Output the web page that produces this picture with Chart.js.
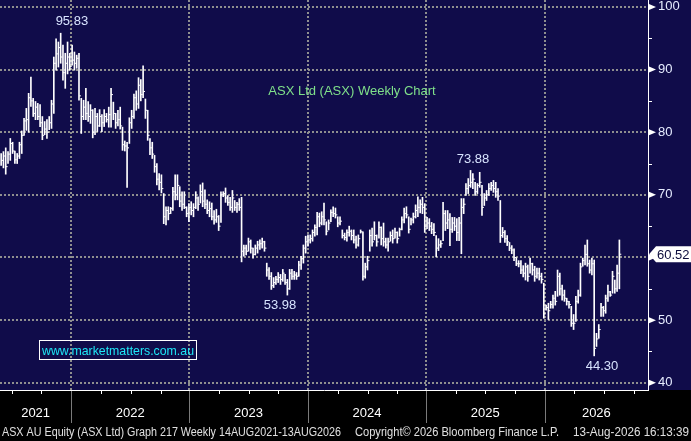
<!DOCTYPE html>
<html>
<head>
<meta charset="utf-8">
<script src="https://cdn.jsdelivr.net/npm/chart.js@4.4.0/dist/chart.umd.min.js"></script>
<style>
  html, body { margin: 0; padding: 0; background: #000; }
  canvas { display: block; }
</style>
</head>
<body>
<canvas id="chart" width="691" height="441"></canvas>
<script>
// weekly bars, Aug 2021 -> Aug 2026
const highs = [
  76.6, 76.9, 77.5, 76.9, 79.0, 78.4, 77.0, 76.6, 78.4, 80.2,
  82.2, 83.8, 86.2, 88.8, 85.4, 84.9, 84.6, 84.4, 82.5, 81.7,
  82.0, 82.5, 85.1, 92.0, 94.9, 94.4, 95.8, 93.9, 92.6, 94.4,
  92.6, 93.9, 92.8, 92.3, 92.6, 85.4, 85.1, 87.0, 84.9, 84.4,
  83.6, 83.8, 83.0, 83.6, 82.8, 83.6, 83.0, 84.0, 87.0, 84.8,
  83.0, 83.5, 84.0, 80.8, 78.6, 78.4, 82.3, 83.5, 86.1, 86.6,
  88.7, 88.4, 90.6, 85.3, 83.5, 79.0, 78.4, 76.3, 75.0, 73.4,
  73.2, 70.2, 68.1, 68.1, 68.0, 71.2, 73.2, 73.2, 71.3, 70.5,
  70.5, 68.1, 68.6, 68.9, 68.6, 70.5, 69.7, 71.6, 71.9, 70.8,
  69.2, 68.9, 68.7, 67.5, 67.7, 66.7, 70.5, 70.5, 71.1, 69.9,
  69.6, 70.7, 69.1, 68.8, 69.4, 69.6, 62.0, 62.0, 63.1, 62.8,
  61.5, 62.0, 62.6, 62.8, 63.1, 62.6, 59.1, 58.4, 57.6, 56.8,
  57.0, 57.6, 57.3, 58.1, 57.3, 56.5, 58.1, 58.1, 57.8, 57.6,
  59.4, 60.2, 62.0, 63.4, 63.6, 63.6, 64.4, 65.2, 67.2, 67.1,
  67.3, 68.7, 65.7, 66.0, 67.6, 68.1, 67.9, 66.5, 66.5, 64.4,
  63.9, 64.4, 65.0, 64.4, 64.4, 63.4, 63.6, 64.4, 64.1, 59.1,
  60.2, 64.4, 64.7, 65.7, 63.6, 65.7, 64.9, 65.5, 63.1, 63.1,
  64.1, 64.4, 64.7, 64.1, 64.7, 66.5, 67.9, 68.1, 66.5, 66.3,
  67.1, 68.4, 69.7, 69.2, 69.6, 68.6, 66.4, 66.2, 65.6, 65.4,
  63.5, 63.0, 62.7, 68.8, 67.5, 67.5, 67.0, 66.4, 66.4, 66.2,
  66.4, 69.4, 69.4, 71.8, 72.6, 73.9, 73.4, 72.0, 71.8, 73.6,
  71.5, 70.2, 70.7, 71.8, 72.0, 72.3, 72.0, 71.0, 69.1, 64.8,
  64.3, 63.5, 62.4, 61.9, 61.4, 60.0, 59.5, 59.5, 58.7, 59.1,
  58.8, 59.9, 59.1, 58.6, 58.3, 58.3, 57.5, 55.9, 52.4, 52.7,
  53.0, 54.0, 54.6, 58.0, 57.5, 55.6, 54.8, 53.5, 53.0, 52.2,
  50.9, 53.8, 54.8, 59.1, 59.9, 62.0, 62.8, 59.6, 59.9, 59.6,
  47.9, 49.3, 52.7, 52.2, 54.0, 55.6, 54.6, 57.8, 56.4, 58.8, 62.8
];
const lows = [
  74.7, 74.3, 73.3, 75.0, 75.5, 76.6, 75.0, 75.0, 75.8, 76.6,
  79.5, 80.3, 80.0, 84.1, 82.5, 82.0, 82.0, 80.9, 78.8, 79.6,
  79.0, 80.4, 80.6, 83.0, 89.9, 90.4, 91.0, 88.3, 87.0, 89.3,
  89.9, 90.7, 89.9, 90.2, 85.1, 79.8, 82.0, 82.0, 81.7, 81.4,
  79.1, 79.6, 80.1, 80.9, 80.1, 80.9, 81.6, 80.8, 80.8, 82.0,
  80.6, 81.0, 80.5, 77.1, 77.0, 71.2, 78.2, 80.6, 82.2, 83.5,
  83.8, 85.0, 85.5, 82.2, 78.7, 76.4, 75.8, 73.6, 71.6, 70.8,
  70.3, 65.4, 65.2, 66.0, 67.0, 67.5, 69.2, 69.2, 68.1, 67.5,
  67.8, 66.5, 65.7, 66.8, 66.5, 67.8, 67.5, 68.7, 68.1, 67.8,
  67.0, 66.5, 66.0, 65.3, 65.6, 64.3, 65.6, 69.7, 68.8, 68.3,
  67.5, 67.2, 67.5, 67.2, 67.5, 59.3, 60.2, 60.4, 61.0, 60.7,
  59.9, 60.4, 60.7, 61.3, 61.5, 61.0, 57.0, 56.5, 54.9, 55.2,
  55.7, 56.0, 55.7, 56.2, 55.7, 54.0, 54.9, 56.5, 56.5, 56.5,
  57.0, 58.1, 59.1, 60.7, 61.8, 62.3, 62.6, 63.4, 63.6, 64.9,
  65.2, 65.2, 63.6, 64.4, 65.7, 66.5, 66.3, 64.9, 65.2, 63.1,
  62.8, 62.6, 63.4, 62.8, 62.3, 61.5, 61.8, 63.9, 56.4, 56.7,
  58.0, 61.0, 61.8, 62.8, 61.8, 63.1, 62.0, 61.8, 61.5, 61.0,
  62.6, 62.3, 63.1, 62.3, 63.4, 64.4, 65.5, 66.3, 63.9, 65.2,
  65.5, 66.3, 66.5, 67.1, 67.0, 64.0, 64.6, 64.3, 63.8, 63.5,
  60.1, 61.1, 61.6, 62.7, 64.3, 64.6, 61.9, 64.0, 64.3, 62.7,
  62.7, 60.6, 67.0, 69.9, 70.2, 71.2, 71.0, 69.9, 70.2, 71.2,
  66.7, 68.3, 69.1, 69.9, 70.7, 70.4, 69.6, 69.1, 62.4, 63.2,
  62.4, 61.9, 61.1, 60.6, 59.5, 58.7, 58.5, 57.4, 56.9, 56.4,
  56.2, 57.5, 57.2, 56.2, 56.7, 56.4, 55.9, 50.3, 51.6, 50.1,
  51.9, 51.9, 52.4, 53.8, 54.0, 53.2, 53.0, 52.4, 51.9, 49.0,
  48.5, 49.8, 52.7, 53.8, 58.6, 58.8, 58.6, 57.5, 57.2, 44.3,
  45.8, 47.1, 50.6, 50.6, 51.1, 53.0, 53.8, 54.3, 54.3, 54.6, 55.0
];
const closes = [
  75.5, 76.2, 74.5, 76.5, 78.2, 77.0, 75.6, 76.2, 78.0, 79.5,
  81.8, 82.0, 85.5, 85.0, 83.0, 84.0, 82.5, 81.5, 79.5, 80.5,
  80.0, 81.5, 84.5, 91.0, 92.5, 93.5, 92.0, 89.5, 91.0, 92.0,
  90.5, 91.5, 91.0, 91.8, 85.8, 82.5, 84.0, 83.0, 82.5, 83.5,
  80.0, 82.5, 81.0, 82.5, 81.5, 82.5, 82.0, 82.8, 86.0, 83.0,
  81.5, 82.0, 81.0, 78.0, 77.8, 77.5, 81.5, 82.5, 85.5, 84.5,
  87.5, 86.0, 86.5, 83.5, 79.5, 77.5, 76.5, 74.5, 72.5, 72.0,
  71.0, 66.5, 67.5, 67.0, 67.8, 70.5, 70.0, 71.5, 69.0, 68.5,
  68.0, 67.0, 68.0, 67.5, 68.0, 69.5, 68.5, 70.5, 69.0, 68.5,
  67.5, 67.8, 66.5, 66.0, 66.5, 65.0, 70.0, 70.2, 69.5, 68.8,
  68.0, 69.5, 68.0, 68.5, 68.0, 61.0, 61.5, 61.0, 62.5, 61.5,
  60.5, 61.5, 62.0, 62.2, 62.5, 61.5, 58.0, 57.0, 55.5, 56.0,
  56.5, 56.8, 56.5, 57.5, 56.0, 55.0, 57.5, 57.0, 57.2, 57.0,
  58.8, 59.8, 61.5, 62.5, 62.8, 63.0, 64.0, 64.8, 66.5, 65.5,
  66.5, 66.0, 64.2, 65.5, 67.2, 67.0, 66.8, 65.5, 65.8, 63.5,
  63.2, 64.0, 64.2, 63.5, 62.8, 62.0, 63.0, 64.1, 57.0, 58.5,
  59.5, 63.5, 62.5, 63.5, 62.5, 64.8, 63.0, 62.5, 62.0, 62.5,
  63.5, 63.0, 64.0, 63.0, 64.5, 66.0, 67.0, 66.8, 64.5, 66.0,
  66.5, 67.5, 68.0, 68.5, 68.0, 65.0, 65.5, 65.0, 64.5, 64.0,
  61.5, 62.0, 62.2, 67.0, 65.5, 66.0, 64.5, 65.5, 65.0, 64.0,
  65.5, 68.0, 68.5, 71.0, 71.5, 72.0, 72.5, 70.5, 71.5, 72.0,
  68.0, 69.5, 70.0, 71.0, 71.5, 71.0, 70.5, 69.8, 63.5, 64.0,
  63.0, 62.5, 61.5, 61.2, 60.0, 59.0, 59.0, 58.0, 57.5, 58.5,
  57.0, 59.0, 58.0, 57.0, 57.5, 57.0, 56.5, 51.0, 52.0, 51.5,
  52.5, 53.5, 53.0, 57.0, 55.0, 54.0, 53.5, 53.0, 52.5, 49.5,
  49.5, 53.0, 54.0, 58.5, 59.5, 60.5, 59.0, 58.0, 59.0, 45.5,
  47.0, 48.5, 52.0, 51.5, 53.5, 54.5, 54.0, 57.0, 55.0, 57.5, 60.52
];

// axis layout (x in week numbers)
const yearStarts = [30.6, 82.1, 134, 185.5, 237.4];
const yearMids = [15.05, 56.35, 108.05, 159.75, 211.45, 259.95];
const yearLabels = ['2021', '2022', '2023', '2024', '2025', '2026'];
const yTicks = [40, 50, 60, 70, 80, 90, 100];
const yMinor = [45, 55, 65, 75, 85, 95];
const notes = [
  { text: '95.83', x: 30.9, y: 97.75 },
  { text: '73.88', x: 206.1, y: 75.7 },
  { text: '53.98', x: 121.8, y: 52.3 },
  { text: '44.30', x: 262.4, y: 42.6 }
];

const NAVY = '#100c4a';
const GRID = '#8f8f8f';
const FONT = '"Liberation Sans", Arial, sans-serif';

const quarterTicks = [];
[-1, 0, 1, 2, 3, 4].forEach((k) => {
  const base = k < 0 ? yearStarts[0] - 52 : yearStarts[k];
  [13, 26, 39].forEach((q) => quarterTicks.push(base + q));
});

function noPad(s) {
  s.paddingLeft = 0;
  s.paddingRight = 0;
  s.paddingTop = 0;
  s.paddingBottom = 0;
}

const bgPlugin = {
  id: 'bg',
  beforeDraw(chart) {
    const { ctx, chartArea } = chart;
    ctx.save();
    ctx.fillStyle = '#000';
    ctx.fillRect(0, 0, chart.width, chart.height);
    ctx.fillStyle = NAVY;
    ctx.fillRect(0, 0, chart.width, chartArea.bottom);
    ctx.restore();
  }
};

const overlayPlugin = {
  id: 'overlay',
  afterDraw(chart) {
    const { ctx, chartArea: a } = chart;
    const x = chart.scales.x, y = chart.scales.y;
    ctx.save();

    // right axis markers
    ctx.fillStyle = '#fff';
    ctx.strokeStyle = '#fff';
    ctx.lineWidth = 1;
    yTicks.forEach((v) => {
      const py = y.getPixelForValue(v);
      ctx.beginPath();
      ctx.moveTo(a.right + 1, py - 3);
      ctx.lineTo(a.right + 8, py);
      ctx.lineTo(a.right + 1, py + 3);
      ctx.closePath();
      ctx.fill();
    });
    yMinor.forEach((v) => {
      const py = Math.round(y.getPixelForValue(v)) + 0.5;
      ctx.beginPath();
      ctx.moveTo(a.right, py);
      ctx.lineTo(a.right + 4, py);
      ctx.stroke();
    });

    // last price tag
    const last = closes[closes.length - 1];
    const ty = y.getPixelForValue(last);
    ctx.beginPath();
    ctx.moveTo(a.right + 1, ty);
    ctx.lineTo(a.right + 8, ty - 8);
    ctx.lineTo(chart.width, ty - 8);
    ctx.lineTo(chart.width, ty + 8);
    ctx.lineTo(a.right + 8, ty + 8);
    ctx.closePath();
    ctx.fill();
    ctx.fillStyle = '#0c0c3c';
    ctx.font = '13px ' + FONT;
    ctx.textBaseline = 'middle';
    ctx.textAlign = 'left';
    ctx.fillText(last.toFixed(2), a.right + 9, ty + 1);

    // high / low notes
    ctx.fillStyle = '#d8e4ff';
    ctx.textAlign = 'center';
    notes.forEach((n) => {
      ctx.fillText(n.text, x.getPixelForValue(n.x), y.getPixelForValue(n.y));
    });

    // chart title
    ctx.fillStyle = '#7fe08a';
    ctx.fillText('ASX Ltd (ASX) Weekly Chart', 352, 91);

    // website box
    ctx.strokeStyle = '#fff';
    ctx.strokeRect(39.5, 340.5, 157, 19);
    ctx.fillStyle = '#1ee6f6';
    ctx.textAlign = 'left';
    ctx.fillText('www.marketmatters.com.au', 42, 351, 152);

    // year separators and quarter ticks under the plot
    ctx.strokeStyle = '#7a7a7a';
    yearStarts.forEach((v) => {
      const px = Math.round(x.getPixelForValue(v)) + 0.5;
      ctx.beginPath();
      ctx.moveTo(px, a.bottom + 1);
      ctx.lineTo(px, a.bottom + 33);
      ctx.stroke();
    });
    ctx.strokeStyle = '#fff';
    quarterTicks.forEach((v) => {
      const px = Math.round(x.getPixelForValue(v)) + 0.5;
      ctx.beginPath();
      ctx.moveTo(px, a.bottom);
      ctx.lineTo(px, a.bottom + 4);
      ctx.stroke();
    });

    // footer
    ctx.fillStyle = '#e0e0e0';
    ctx.font = '12px ' + FONT;
    ctx.fillText('ASX AU Equity (ASX Ltd) Graph 217 Weekly 14AUG2021-13AUG2026', 2, 433, 339);
    ctx.fillText('Copyright\u00a9 2026 Bloomberg Finance L.P.', 355, 433, 204);
    ctx.fillText('13-Aug-2026 16:13:39', 573, 433, 116);

    ctx.restore();
  }
};

new Chart(document.getElementById('chart'), {
  type: 'bar',
  data: {
    datasets: [{
      type: 'bar',
      data: highs.map((h, i) => ({ x: i, y: [lows[i], h] })),
      backgroundColor: '#ffffff',
      barThickness: 1,
      xAxisID: 'x',
      yAxisID: 'y'
    }, {
      type: 'line',
      data: closes.map((c, i) => ({ x: i + 0.45, y: c })),
      showLine: false,
      pointStyle: 'line',
      pointRadius: 0.9,
      pointHoverRadius: 0,
      pointBorderColor: '#ffffff',
      pointBorderWidth: 1,
      xAxisID: 'x',
      yAxisID: 'y'
    }]
  },
  options: {
    responsive: false,
    animation: false,
    layout: { padding: 0, autoPadding: false },
    plugins: {
      legend: { display: false },
      tooltip: { enabled: false }
    },
    scales: {
      x: {
        type: 'linear',
        position: 'bottom',
        min: -0.5,
        max: 282.5,
        offset: false,
        afterBuildTicks: (s) => { s.ticks = yearStarts.map((v) => ({ value: v })); },
        ticks: { display: false },
        grid: { offset: false, color: GRID, lineWidth: 2, drawTicks: false },
        border: { color: '#ffffff', width: 1, dash: [2, 2] },
        afterFit: (s) => { s.height = 0; noPad(s); }
      },
      xl: {
        type: 'linear',
        position: 'bottom',
        weight: 1,
        min: -0.5,
        max: 282.5,
        offset: false,
        afterBuildTicks: (s) => { s.ticks = yearMids.map((v) => ({ value: v })); },
        ticks: {
          autoSkip: false,
          maxRotation: 0,
          padding: 0,
          color: '#ffffff',
          font: { family: 'Liberation Sans', size: 13 },
          callback: (v, i) => yearLabels[i]
        },
        grid: { offset: false, display: true, drawOnChartArea: false, color: 'rgba(0,0,0,0)', drawTicks: true, tickLength: 16 },
        border: { display: false },
        afterFit: (s) => { s.height = 51; noPad(s); }
      },
      y: {
        position: 'right',
        min: 38.85,
        max: 101.1,
        afterBuildTicks: (s) => { s.ticks = yTicks.map((v) => ({ value: v })); },
        ticks: {
          padding: 10,
          color: '#e6ecff',
          font: { family: 'Liberation Sans', size: 13 }
        },
        grid: { color: GRID, lineWidth: 2, drawTicks: false },
        border: { color: '#ffffff', width: 1, dash: [2, 2] },
        afterFit: (s) => { s.width = 43; noPad(s); }
      }
    }
  },
  plugins: [bgPlugin, overlayPlugin]
});
</script>
</body>
</html>
